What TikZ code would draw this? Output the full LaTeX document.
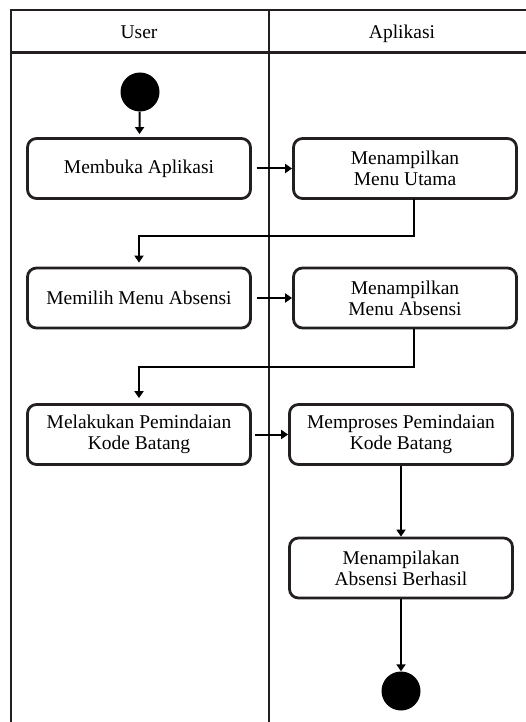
\documentclass[tikz,border=0pt]{standalone}
\usepackage{fontspec}
\setmainfont{Liberation Serif}
\usetikzlibrary{arrows.meta}
\definecolor{inkblk}{RGB}{35,31,32}

\begin{document}
\begin{tikzpicture}[x=1pt, y=-1pt,
    act/.style={draw=inkblk, line width=2.8pt, rounded corners=9pt, rectangle,
        minimum width=223pt, minimum height=60pt, align=center,
        font=\fontsize{19.5}{21}\selectfont},
    acttwo/.style={act, execute at begin node={\rule{0pt}{23pt}}},
    dot/.style={circle, fill=black, minimum size=39pt, inner sep=0pt},
    flow/.style={line width=2pt, -{Triangle[length=7pt,width=9pt]}},
    lane/.style={line width=2.2pt, inkblk},
    title/.style={anchor=base, font=\fontsize{19.5}{21}\selectfont}]
    \useasboundingbox (0,0) rectangle (526,722);

    % Swimlanes
    \draw[lane] (11,722) -- (11,10) -- (526,10);
    \draw[lane] (11,52.5) -- (526,52.5);
    \draw[lane] (269,10) -- (269,722);
    \node[title] (user) at (139,39) {User};
    \node[title] (app) at (402,39) {Aplikasi};

    % Activities
    \node[dot] (start) at (140,92) {};
    \node[act] (buka) at (139,168.5) {Membuka Aplikasi};
    \node[acttwo] (utama) at (405,168.5) {Menampilkan\\Menu Utama};
    \node[act] (pilih) at (139,298) {Memilih Menu Absensi};
    \node[acttwo] (menuabs) at (405,298) {Menampilkan\\Menu Absensi};
    \node[acttwo] (scan) at (139,434.5) {Melakukan Pemindaian\\Kode Batang};
    \node[acttwo] (proses) at (401,434.5) {Memproses Pemindaian\\Kode Batang};
    \node[acttwo] (hasil) at (401,568) {Menampilakan\\Absensi Berhasil};
    \node[dot] (stop) at (401,691) {};

    % Flow
    \coordinate (u1) at (414,199);
    \coordinate (m1) at (414,329);
    \draw[flow, shorten >=3pt] (start) -- (buka);
    \draw[flow, shorten <=5pt] (buka) -- (utama);
    \draw[flow, shorten >=4pt] (u1) -- (414,236) -| (pilih.north);
    \draw[flow, shorten <=5pt] (pilih) -- (menuabs);
    \draw[flow, shorten >=5pt] (m1) -- (414,367) -| (scan.north);
    \draw[flow, shorten <=3pt] (scan) -- (proses);
    \draw[flow] (proses) -- (hasil);
    \draw[flow] (hasil) -- (stop);
\end{tikzpicture}
\end{document}
